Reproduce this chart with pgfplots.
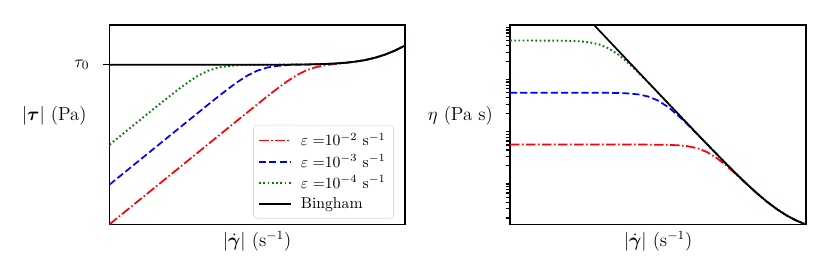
\documentclass[border=0pt]{standalone}
\usepackage{pgfplots}
\pgfplotsset{compat=1.18}
\usepackage{pgfplotstable}
\usepackage{amsmath,amssymb,bm}
\definecolor{mplgreen}{rgb}{0,0.5,0}
\begin{document}
\pgfplotstableread{
x tauR tauB tauG tauBing etaR etaB etaG etaBing
1e-6 5.100e-4 5.010e-3 0.050008 5.00001 510 5010 50007.5 5000010
1.5849e-6 8.083e-4 7.940e-3 0.079251 5.000016 510 5010 50003.7 3154797
2.5119e-6 1.2811e-3 0.012585 0.12558 5.000025 510 5010 49994.25 1990545
3.9811e-6 2.0304e-3 0.019945 0.198935 5.00004 510 5010 49970.4 1255955
6.3096e-6 3.2179e-3 0.031611 0.314918 5.000063 510 5010 49910.75 792455
1e-5 5.1e-3 0.0501 0.49762 5.0001 510 5009.75 49761.85 500010
1.5849e-5 8.083e-3 0.079394 0.782839 5.00016 510 5009.37 49393.6 315488.5
2.5119e-5 0.012811 0.125806 1.218356 5.00025 510 5008.425 48503.5 199064
3.9811e-5 0.020304 0.199293 1.849793 5.0004 510 5006.04 46464.1 125604
6.3096e-5 0.032179 0.315486 2.668731 5.00063 510 5000.075 42296.25 79255
1e-4 0.051 0.49852 3.536535 5.001 509.975 4985.185 35365.35 50010
1.5849e-4 0.08082 0.784265 4.230225 5.0016 509.937 4948.36 26690.85 31558
2.5119e-4 0.128067 1.220617 4.647947 5.0025 509.8425 4859.35 18503.65 19915.5
3.9811e-4 0.202876 1.853376 4.853366 5.004 509.604 4655.41 12191 12569.5
6.3096e-4 0.321165 2.67441 4.94468 5.0063 509.0075 4238.625 7836.75 7934.5
1e-3 0.50752 3.545535 4.985185 5.01 507.5185 3545.535 4985.2 5010
1.5849e-3 0.798529 4.244489 5.005924 5.015849 503.836 2678.085 3158.5 3164.8
2.5119e-3 1.243224 4.670554 5.021159 5.025119 494.935 1859.365 1998.95 2000.55
3.9811e-3 1.889206 4.889196 5.038236 5.039811 474.541 1228.1 1265.5 1265.95
6.3096e-3 2.731196 5.001466 5.062466 5.063096 432.8625 792.675 802.35 802.45
1e-2 3.635535 5.075185 5.09975 5.1 363.5535 507.52 509.975 510
1.5849e-2 4.38713 5.148565 5.15848 5.15849 276.8085 324.85 325.47 325.48
2.5119e-2 4.896625 5.24723 5.25118 5.25119 194.9365 208.895 209.05 209.055
3.9811e-2 5.247495 5.396535 5.3981 5.39811 131.81 135.55 135.59 135.595
6.3096e-2 5.56933 5.63033 5.63095 5.63096 88.2675 89.235 89.24 89.245
0.1 5.975185 5.99975 5.99999 6 59.752 59.9975 59.9995 60
0.15849 6.574975 6.58485 6.5849 6.5849 41.4855 41.548 41.548 41.548
0.25119 7.50794 7.51185 7.5119 7.5119 29.8895 29.9055 29.9055 29.9055
0.39811 8.979525 8.98105 8.9811 8.9811 22.555 22.5595 22.5595 22.5595
0.63096 11.30897 11.30955 11.3096 11.3096 17.9235 17.9245 17.9245 17.9245
1 14.99975 14.99995 15 15 14.99975 15 15 15
}\data
\tikzset{
 redl/.style={red, line width=1.1pt, dash pattern=on 6pt off 1.6pt on 1pt off 1.6pt},
 bluel/.style={blue, line width=1.1pt, dash pattern=on 4.5pt off 2pt},
 greenl/.style={mplgreen, line width=1.2pt, dash pattern=on 1.1pt off 1.6pt},
 blackl/.style={black, line width=1.1pt}
}
\begin{tikzpicture}
\path[use as bounding box] (-66.46pt,-32.28pt) rectangle (458.86pt,143.04pt);
\begin{axis}[at={(0pt,0pt)}, anchor=south west, scale only axis,
  width=187.97pt, height=127.22pt,
  xmode=log, ymode=log, xmin=1e-6, xmax=1, xtick=\empty,
  axis line style={line width=1.1pt},
  tick align=outside, ytick pos=left,
  major tick length=4.4pt,
  every tick/.style={black, line width=0.8pt},
  tick label style={font=\fontsize{11}{13}\selectfont},
  yticklabel style={xshift=-5pt},
  xlabel={$|\dot{\boldsymbol{\gamma}}|$ (s$^{-1}$)},
  every axis x label/.style={at={(axis description cs:0.5,-0.035)}, anchor=north, inner sep=0pt, font=\fontsize{12}{14}\selectfont},
  ymin=5e-4, ymax=50, ytick={5}, yticklabels={$\tau_0$}, yminorticks=false,
  ylabel={$|\boldsymbol{\tau}|$ (Pa)},
  every axis y label/.style={at={(axis description cs:-0.077,0.545)}, anchor=east, inner sep=0pt, font=\fontsize{12}{14}\selectfont},
  legend cell align=left,
  legend image code/.code={\draw[#1] (0pt,0pt) -- (20pt,0pt); \path (24pt,0pt);},
  legend style={at={(rel axis cs:0.963,0.03)}, anchor=south east, draw=black!15, rounded corners=2pt,
    fill=white, fill opacity=0.8, text opacity=1, font=\normalsize, row sep=0pt, inner sep=3pt},
]
\addplot[redl] table[x=x,y=tauR]{\data};
\addlegendentry{$\varepsilon=$10$^{-2}$ s$^{-1}$}
\addplot[bluel] table[x=x,y=tauB]{\data};
\addlegendentry{$\varepsilon=$10$^{-3}$ s$^{-1}$}
\addplot[greenl] table[x=x,y=tauG]{\data};
\addlegendentry{$\varepsilon=$10$^{-4}$ s$^{-1}$}
\addplot[blackl] table[x=x,y=tauBing]{\data};
\addlegendentry{Bingham}
\end{axis}
\begin{axis}[at={(255.06pt,0pt)}, anchor=south west, scale only axis,
  width=188.6pt, height=127.22pt,
  xmode=log, ymode=log, xmin=1e-6, xmax=1, xtick=\empty,
  axis line style={line width=1.1pt},
  tick align=outside, ytick pos=left,
  major tick length=2.5pt,
  every tick/.style={black, line width=0.8pt},
  xlabel={$|\dot{\boldsymbol{\gamma}}|$ (s$^{-1}$)},
  every axis x label/.style={at={(axis description cs:0.5,-0.035)}, anchor=north, inner sep=0pt, font=\fontsize{12}{14}\selectfont},
  ymin=15, ymax=1e5, yminorticks=false,
  ytick={20,30,40,50,60,70,80,90,200,300,400,500,600,700,800,900,2000,3000,4000,5000,6000,7000,8000,9000,20000,30000,40000,50000,60000,70000,80000,90000},
  yticklabels={},
  ylabel={$\eta$ (Pa s)},
  every axis y label/.style={at={(axis description cs:-0.057,0.547)}, anchor=east, inner sep=0pt, font=\fontsize{12}{14}\selectfont},
]
\addplot[redl] table[x=x,y=etaR]{\data};
\addplot[bluel] table[x=x,y=etaB]{\data};
\addplot[greenl] table[x=x,y=etaG]{\data};
\addplot[blackl] table[x=x,y=etaBing]{\data};
\end{axis}
\end{tikzpicture}
\end{document}
